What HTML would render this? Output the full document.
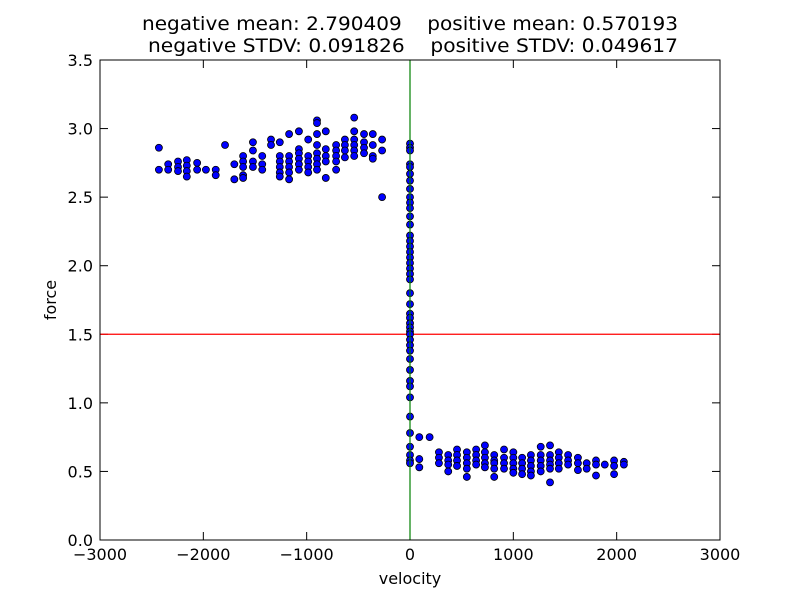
<!DOCTYPE html>
<html><head><meta charset="utf-8"><style>
body{margin:0;background:#fff;}
svg{display:block;font-family:"DejaVu Sans","Liberation Sans",sans-serif;}
.pre{white-space:pre;}
</style></head><body>
<svg id="chart" width="800" height="600">
<rect width="800" height="600" fill="#fff"/>
<text class="pre" x="410" y="30" font-size="19" text-anchor="middle" textLength="536" lengthAdjust="spacingAndGlyphs">negative mean: 2.790409    positive mean: 0.570193</text>
<text class="pre" x="413" y="52" font-size="19" text-anchor="middle" textLength="530" lengthAdjust="spacingAndGlyphs">negative STDV: 0.091826    positive STDV: 0.049617</text>
<g id="ticks"></g>
<g id="lines"></g>
<g id="points"></g>
<rect x="100" y="60" width="620" height="480" fill="none" stroke="#000" stroke-width="1"/>
<text x="410" y="584" font-size="16" text-anchor="middle">velocity</text>
<text x="56" y="300" font-size="16" text-anchor="middle" transform="rotate(-90 56 300)">force</text>
</svg>
<script>
const xTicks=[-3000,-2000,-1000,0,1000,2000,3000];
const yTicks=[0.0,0.5,1.0,1.5,2.0,2.5,3.0,3.5];
const hLineForce=1.5;
const vLineVelocity=0;
const negVelocities=[-2430,-2340,-2245,-2160,-2060,-1975,-1880,-1790,-1700,-1615,-1520,-1430,-1345,-1260,-1170,-1075,-985,-900,-815,-715,-630,-540,-445,-360,-270];
const negForces=[[2.86,2.70],[2.74,2.70],[2.76,2.72,2.69],[2.77,2.73,2.69,2.65],[2.75,2.70],[2.70],[2.70,2.66],[2.88],[2.74,2.63],[2.80,2.76,2.72,2.66,2.64],[2.90,2.84,2.76,2.72],[2.80,2.74,2.70],[2.92,2.88],[2.90,2.80,2.76,2.72,2.68,2.65],[2.96,2.80,2.76,2.72,2.68,2.63],[2.98,2.85,2.82,2.78,2.74,2.70],[2.92,2.80,2.76,2.72,2.68],[3.06,3.04,2.96,2.88,2.82,2.78,2.74,2.70],[2.98,2.85,2.80,2.76,2.64],[2.88,2.84,2.80,2.76,2.70],[2.92,2.88,2.84,2.79],[3.08,2.98,2.92,2.88,2.84,2.80],[2.96,2.90,2.86,2.82],[2.96,2.88,2.80,2.78],[2.92,2.84,2.50]];
const zeroForces=[2.89,2.86,2.84,2.74,2.72,2.67,2.62,2.56,2.50,2.46,2.42,2.36,2.30,2.22,2.18,2.14,2.10,2.06,2.02,1.98,1.94,1.90,1.80,1.72,1.65,1.62,1.58,1.55,1.52,1.50,1.46,1.42,1.38,1.32,1.24,1.16,1.12,1.04,0.90,0.78,0.68,0.62,0.58,0.56];
const posVelocities=[90,190,280,370,455,550,640,725,815,910,1000,1085,1170,1265,1355,1440,1530,1625,1710,1800,1885,1975,2070];
const posForces=[[0.75,0.59,0.53],[0.75],[0.64,0.60,0.56],[0.62,0.58,0.55,0.50],[0.66,0.62,0.58,0.54],[0.64,0.60,0.56,0.52,0.46],[0.66,0.62,0.58,0.55],[0.69,0.64,0.60,0.56,0.53],[0.62,0.58,0.56,0.52,0.46],[0.66,0.60,0.56,0.52],[0.64,0.60,0.56,0.52,0.49],[0.60,0.56,0.52,0.48],[0.62,0.58,0.54,0.50,0.47],[0.68,0.62,0.58,0.54,0.50],[0.69,0.62,0.58,0.55,0.52,0.42],[0.64,0.60,0.56,0.52],[0.62,0.58,0.55],[0.60,0.56,0.51],[0.56,0.52],[0.58,0.55,0.47],[0.55],[0.58,0.54,0.48],[0.57,0.55]];

const NS="http://www.w3.org/2000/svg";
const X0=100,X1=720,Y0=540,Y1=60;
function xs(v){return X0+(v-(-3000))/6000*(X1-X0);}
function ys(f){return Y0-(f-0)/3.5*(Y0-Y1);}
function mk(tag,attrs,parent){const e=document.createElementNS(NS,tag);for(const k in attrs)e.setAttribute(k,attrs[k]);parent.appendChild(e);return e;}
const tg=document.getElementById('ticks');
xTicks.forEach(t=>{const x=xs(t);
 let l=mk('line',{x1:x,x2:x,y1:Y0,y2:Y0-8,stroke:'#000'},tg);
 
 
 let l2=mk('line',{x1:x,x2:x,y1:Y1,y2:Y1+8,stroke:'#000'},tg);
 
 
 let tx=mk('text',{x:x,y:Y0+20,'font-size':16,'text-anchor':'middle'},tg);tx.textContent=t.toString().replace('-','\u2212');
 
 
});
yTicks.forEach(t=>{const y=ys(t);
 let l=mk('line',{x1:X0,x2:X0+8,y1:y,y2:y,stroke:'#000'},tg);
 
 
 let l2=mk('line',{x1:X1,x2:X1-8,y1:y,y2:y,stroke:'#000'},tg);
 
 
 let tx=mk('text',{x:X0-7,y:y+6,'font-size':16,'text-anchor':'end'},tg);tx.textContent=t.toFixed(1);
 
 
});
const lg=document.getElementById('lines');
let hl=mk('line',{x1:X0,x2:X1,y1:ys(hLineForce),y2:ys(hLineForce),stroke:'#ff0000','stroke-width':1.2},lg);


const pg=document.getElementById('points');
function dot(v,f){const c=mk('circle',{cx:xs(v),cy:ys(f),r:3.5,fill:'#0000ff',stroke:'#000','stroke-width':0.8},pg);
 
 }
negVelocities.forEach((v,i)=>negForces[i].forEach(f=>dot(v,f)));
zeroForces.forEach(f=>dot(0,f));
posVelocities.forEach((v,i)=>posForces[i].forEach(f=>dot(v,f)));
let vl=mk('line',{x1:xs(vLineVelocity),x2:xs(vLineVelocity),y1:Y0,y2:Y1,stroke:'#008000','stroke-width':1.2},pg);


</script>
</body></html>
